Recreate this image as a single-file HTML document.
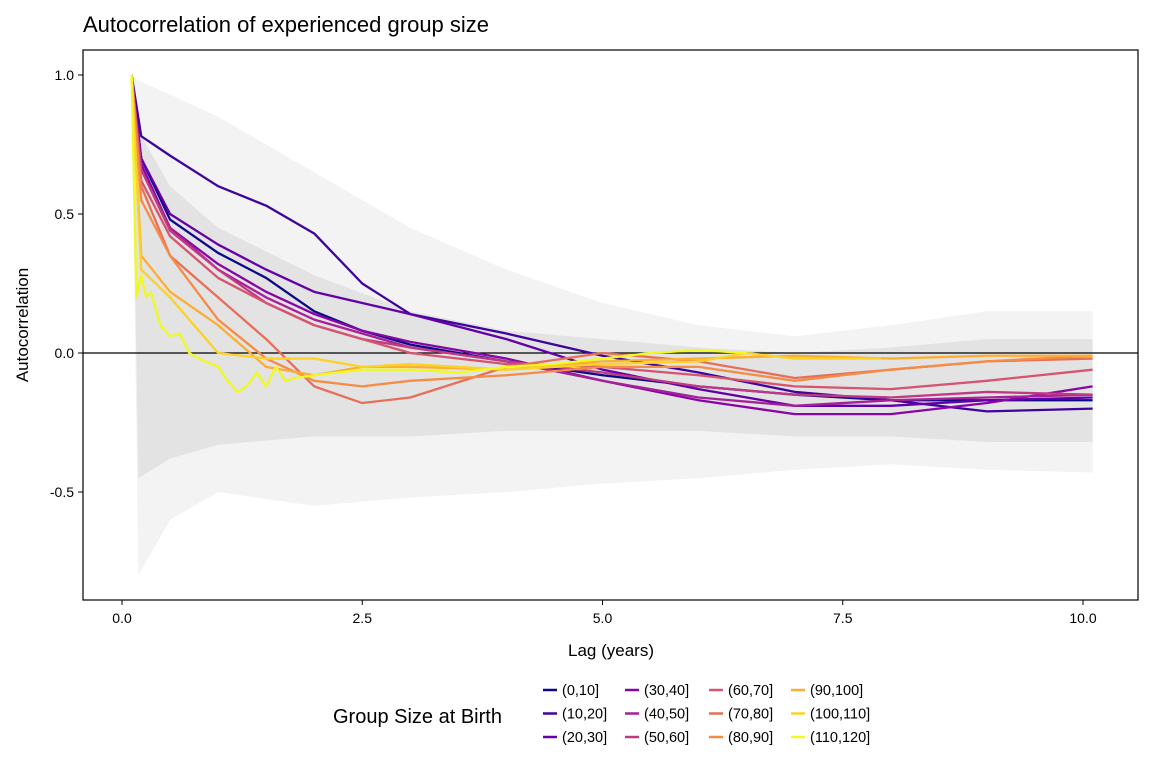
<!DOCTYPE html>
<html><head><meta charset="utf-8"><style>
html,body{margin:0;padding:0;background:#fff;}
svg{display:block;font-family:"Liberation Sans",Arial,sans-serif;}
</style></head><body>
<svg id="chart" width="1152" height="768">
<text x="83" y="32" font-size="22" fill="#000">Autocorrelation of experienced group size</text>
<g id="plot"></g>
<rect x="83" y="50" width="1055" height="550" fill="none" stroke="#000" stroke-width="1.2"/>
<text x="611" y="656" font-size="17" text-anchor="middle">Lag (years)</text>
<text transform="translate(28,325) rotate(-90)" font-size="17" text-anchor="middle">Autocorrelation</text>
<text x="333" y="723" font-size="20">Group Size at Birth</text>
<g id="legend"></g>
</svg>
<script>
const labels=["(0,10]","(10,20]","(20,30]","(30,40]","(40,50]","(50,60]","(60,70]","(70,80]","(80,90]","(90,100]","(100,110]","(110,120]"];
const colors=["#0d0887","#3e049c","#6300a7","#8707a6","#a62098","#c03a83","#d5546e","#e76f5a","#f58c46","#fdad32","#fcd225","#f0f921"];
const xTicks=[0,2.5,5,7.5,10];
const xTickLabels=["0.0","2.5","5.0","7.5","10.0"];
const yTicks=[1,0.5,0,-0.5];
const yTickLabels=["1.0","0.5","0.0","-0.5"];
const lagX=[0.1,0.2,0.5,1,1.5,2,2.5,3,4,5,6,7,8,9,10.1];
const s0=[1,0.7,0.48,0.36,0.27,0.15,0.08,0.03,-0.03,-0.08,-0.12,-0.15,-0.17,-0.17,-0.17];
const s1=[1,0.78,0.71,0.6,0.53,0.43,0.25,0.14,0.07,-0.01,-0.07,-0.14,-0.17,-0.21,-0.2];
const s2=[1,0.7,0.5,0.39,0.3,0.22,0.18,0.14,0.05,-0.06,-0.13,-0.19,-0.19,-0.17,-0.16];
const s3=[1,0.68,0.45,0.32,0.22,0.14,0.08,0.04,-0.02,-0.1,-0.17,-0.22,-0.22,-0.18,-0.12];
const s4=[1,0.66,0.45,0.3,0.2,0.12,0.07,0.02,-0.03,-0.1,-0.16,-0.19,-0.17,-0.16,-0.15];
const s5=[1,0.66,0.44,0.3,0.18,0.1,0.05,0.02,-0.03,-0.07,-0.12,-0.15,-0.16,-0.14,-0.15];
const s6=[1,0.62,0.42,0.27,0.18,0.1,0.05,0.0,-0.04,-0.05,-0.08,-0.12,-0.13,-0.1,-0.06];
const s7=[1,0.6,0.35,0.2,0.05,-0.12,-0.18,-0.16,-0.05,0.0,-0.03,-0.09,-0.06,-0.03,-0.02];
const s8=[1,0.55,0.35,0.12,-0.02,-0.1,-0.12,-0.1,-0.08,-0.05,-0.05,-0.1,-0.06,-0.03,-0.01];
const s9=[1,0.35,0.22,0.1,-0.05,-0.08,-0.05,-0.05,-0.06,-0.03,-0.02,-0.01,-0.02,-0.01,-0.01];
const x10=[0.1,0.2,0.5,1,1.5,2,2.5,3,4,5,6,6.5,7,7.9];
const s10=[1,0.3,0.2,0.0,-0.02,-0.02,-0.05,-0.04,-0.06,-0.04,-0.03,0.0,-0.02,-0.02];
const x11=[0.1,0.15,0.2,0.25,0.3,0.4,0.5,0.6,0.7,0.8,1.0,1.1,1.2,1.3,1.4,1.5,1.6,1.7,1.8,2,2.5,3,3.5,4,4.5,5,5.5,6,6.5];
const s11=[1,0.2,0.28,0.2,0.22,0.1,0.06,0.07,0.0,-0.02,-0.05,-0.1,-0.14,-0.12,-0.07,-0.12,-0.05,-0.1,-0.09,-0.08,-0.06,-0.06,-0.07,-0.05,-0.04,-0.02,0.0,0.01,0.0];
const bandX=[0.1,0.17,0.5,1,2,3,4,5,6,7,8,9,10.1];
const outerHi=[1,0.98,0.93,0.85,0.65,0.45,0.3,0.18,0.1,0.06,0.1,0.15,0.15];
const outerLo=[1,-0.8,-0.6,-0.5,-0.55,-0.52,-0.5,-0.47,-0.45,-0.42,-0.4,-0.42,-0.43];
const innerHi=[1,0.8,0.6,0.45,0.28,0.15,0.08,0.05,0.02,0.0,0.02,0.05,0.05];
const innerLo=[1,-0.45,-0.38,-0.33,-0.3,-0.3,-0.28,-0.28,-0.28,-0.3,-0.3,-0.32,-0.32];

const X=v=>122+v*96.1, Y=v=>353-v*278;
const NS="http://www.w3.org/2000/svg";
const plot=document.getElementById('plot');
function band(hi,lo,fill,name){
  const p=document.createElementNS(NS,'polygon');
  const pts=bandX.map((x,i)=>X(x)+','+Y(hi[i])).concat(bandX.map((x,i)=>X(x)+','+Y(lo[i])).reverse());
  p.setAttribute('points',pts.join(' '));p.setAttribute('fill',fill);
  
  
  plot.appendChild(p);
}
band(outerHi,outerLo,'#f3f3f3','gray-envelope-outer');
band(innerHi,innerLo,'#e3e3e3','gray-envelope-inner');
const zl=document.createElementNS(NS,'line');
zl.setAttribute('x1',83);zl.setAttribute('x2',1138);zl.setAttribute('y1',Y(0));zl.setAttribute('y2',Y(0));zl.setAttribute('stroke','#000');zl.setAttribute('stroke-width','1.2');


plot.appendChild(zl);
const series=[s0,s1,s2,s3,s4,s5,s6,s7,s8,s9,s10,s11];
const xsets=[lagX,lagX,lagX,lagX,lagX,lagX,lagX,lagX,lagX,lagX,x10,x11];
series.forEach((s,k)=>{
  const pl=document.createElementNS(NS,'polyline');
  pl.setAttribute('points',s.map((v,i)=>X(xsets[k][i])+','+Y(v)).join(' '));
  pl.setAttribute('fill','none');pl.setAttribute('stroke',colors[k]);pl.setAttribute('stroke-width','2.3');pl.setAttribute('stroke-linejoin','round');
  
  
  plot.appendChild(pl);
});
xTicks.forEach((t,i)=>{
  const l=document.createElementNS(NS,'line');
  l.setAttribute('x1',X(t));l.setAttribute('x2',X(t));l.setAttribute('y1',600);l.setAttribute('y2',605);l.setAttribute('stroke','#000');
  
  
  plot.appendChild(l);
  const tx=document.createElementNS(NS,'text');
  tx.setAttribute('x',X(t));tx.setAttribute('y',623);tx.setAttribute('font-size','14');tx.setAttribute('text-anchor','middle');tx.textContent=xTickLabels[i];
  
  
  plot.appendChild(tx);
});
yTicks.forEach((t,i)=>{
  const l=document.createElementNS(NS,'line');
  l.setAttribute('x1',78);l.setAttribute('x2',83);l.setAttribute('y1',Y(t));l.setAttribute('y2',Y(t));l.setAttribute('stroke','#000');
  
  
  plot.appendChild(l);
  const tx=document.createElementNS(NS,'text');
  tx.setAttribute('x',74);tx.setAttribute('y',Y(t)+5);tx.setAttribute('font-size','14');tx.setAttribute('text-anchor','end');tx.textContent=yTickLabels[i];
  
  
  plot.appendChild(tx);
});
const leg=document.getElementById('legend');
const colX=[543,625,709,791];
labels.forEach((lab,i)=>{
  const cx=colX[Math.floor(i/3)], cy=690+(i%3)*23.5;
  const g=document.createElementNS(NS,'g');
  
  
  const l=document.createElementNS(NS,'line');
  l.setAttribute('x1',cx);l.setAttribute('x2',cx+14);l.setAttribute('y1',cy);l.setAttribute('y2',cy);l.setAttribute('stroke',colors[i]);l.setAttribute('stroke-width','2.5');
  
  
  g.appendChild(l);
  const t=document.createElementNS(NS,'text');
  t.setAttribute('x',cx+19);t.setAttribute('y',cy+5);t.setAttribute('font-size','14.5');t.textContent=lab;
  
  
  g.appendChild(t);
  leg.appendChild(g);
});
</script>
</body></html>
